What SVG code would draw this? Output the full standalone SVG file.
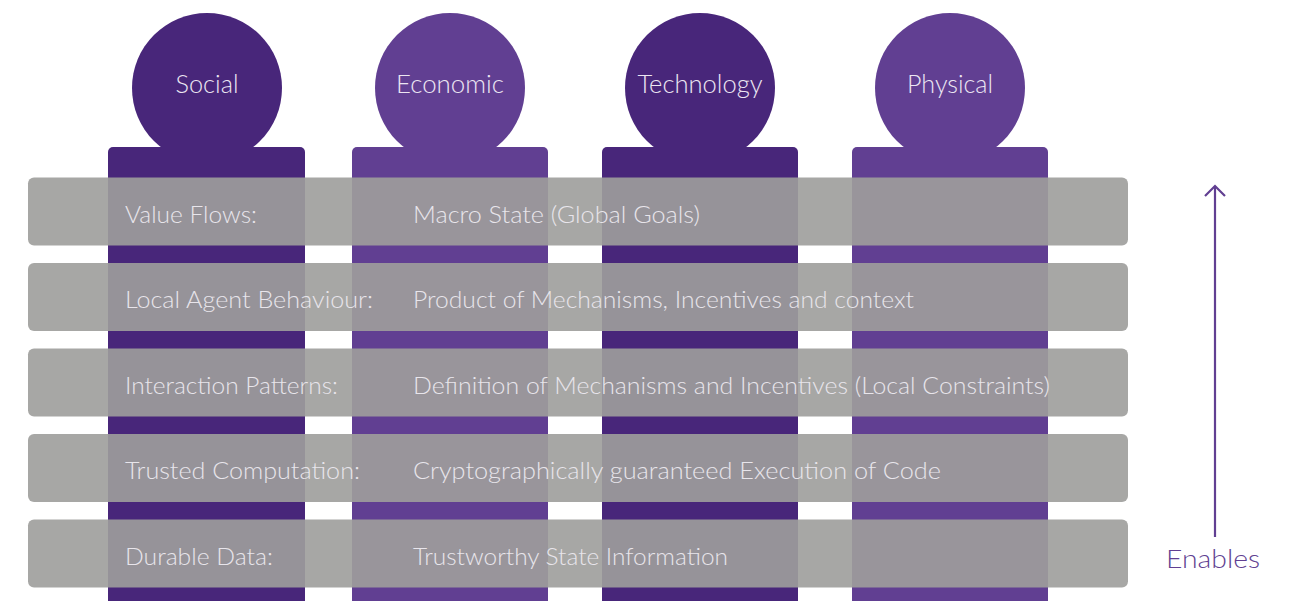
<svg xmlns="http://www.w3.org/2000/svg" width="1296" height="601" viewBox="0 0 1296 601">
  <style>
    .dark { fill: #48267a; }
    .light { fill: #613f92; }
    .pillar-label { font-family: Lato, "Noto Sans", sans-serif; font-weight: 300; font-size: 25px; fill: #ece6f2; text-anchor: middle; }
    .layer { fill: #9e9e9c; fill-opacity: 0.91; }
    .layer-text { font-family: Lato, "Noto Sans", sans-serif; font-weight: 300; font-size: 23px; fill: #e8e5eb; }
    .arrow { stroke: #613f92; stroke-width: 2.2; fill: none; }
    .enables { font-family: Lato, "Noto Sans", sans-serif; font-weight: 300; font-size: 26px; fill: #613f92; text-anchor: middle; }
  </style>
  <rect width="1296" height="601" fill="#ffffff"/>

  <g id="pillar-social">
    <circle class="dark" cx="207" cy="88" r="75"/>
    <rect class="dark" x="108" y="147" width="197" height="460" rx="5"/>
    <text class="pillar-label" x="207" y="93" textLength="63" lengthAdjust="spacingAndGlyphs">Social</text>
  </g>
  <g id="pillar-economic">
    <circle class="light" cx="450" cy="88" r="75"/>
    <rect class="light" x="352" y="147" width="196" height="460" rx="5"/>
    <text class="pillar-label" x="450" y="93" textLength="108" lengthAdjust="spacingAndGlyphs">Economic</text>
  </g>
  <g id="pillar-technology">
    <circle class="dark" cx="700" cy="88" r="75"/>
    <rect class="dark" x="602" y="147" width="196" height="460" rx="5"/>
    <text class="pillar-label" x="700" y="93" textLength="125" lengthAdjust="spacingAndGlyphs">Technology</text>
  </g>
  <g id="pillar-physical">
    <circle class="light" cx="950" cy="88" r="75"/>
    <rect class="light" x="852" y="147" width="196" height="460" rx="5"/>
    <text class="pillar-label" x="950" y="93" textLength="86" lengthAdjust="spacingAndGlyphs">Physical</text>
  </g>

  <g id="layer-value-flows">
    <rect class="layer" x="28" y="177.5" width="1100" height="68" rx="6"/>
    <text class="layer-text" x="125" y="222.5" textLength="132" lengthAdjust="spacingAndGlyphs">Value Flows:</text>
    <text class="layer-text" x="413" y="222.5" textLength="287" lengthAdjust="spacingAndGlyphs">Macro State (Global Goals)</text>
  </g>
  <g id="layer-local-agent-behaviour">
    <rect class="layer" x="28" y="263" width="1100" height="68" rx="6"/>
    <text class="layer-text" x="125" y="308" textLength="248" lengthAdjust="spacingAndGlyphs">Local Agent Behaviour:</text>
    <text class="layer-text" x="413" y="308" textLength="501" lengthAdjust="spacingAndGlyphs">Product of Mechanisms, Incentives and context</text>
  </g>
  <g id="layer-interaction-patterns">
    <rect class="layer" x="28" y="348.5" width="1100" height="68" rx="6"/>
    <text class="layer-text" x="125" y="393.5" textLength="213" lengthAdjust="spacingAndGlyphs">Interaction Patterns:</text>
    <text class="layer-text" x="413" y="393.5" textLength="637" lengthAdjust="spacingAndGlyphs">Definition of Mechanisms and Incentives (Local Constraints)</text>
  </g>
  <g id="layer-trusted-computation">
    <rect class="layer" x="28" y="434" width="1100" height="68" rx="6"/>
    <text class="layer-text" x="125" y="479" textLength="235" lengthAdjust="spacingAndGlyphs">Trusted Computation:</text>
    <text class="layer-text" x="413" y="479" textLength="528" lengthAdjust="spacingAndGlyphs">Cryptographically guaranteed Execution of Code</text>
  </g>
  <g id="layer-durable-data">
    <rect class="layer" x="28" y="519.5" width="1100" height="68" rx="6"/>
    <text class="layer-text" x="125" y="564.5" textLength="148" lengthAdjust="spacingAndGlyphs">Durable Data:</text>
    <text class="layer-text" x="413" y="564.5" textLength="315" lengthAdjust="spacingAndGlyphs">Trustworthy State Information</text>
  </g>

  <g id="connectors">
    <line class="arrow" x1="1215" y1="537" x2="1215" y2="186"/>
    <polyline class="arrow" points="1205,196 1215,186 1225,196"/>
  </g>
  <g id="label-enables">
    <text class="enables" x="1213" y="568" textLength="94" lengthAdjust="spacingAndGlyphs">Enables</text>
  </g>
</svg>
